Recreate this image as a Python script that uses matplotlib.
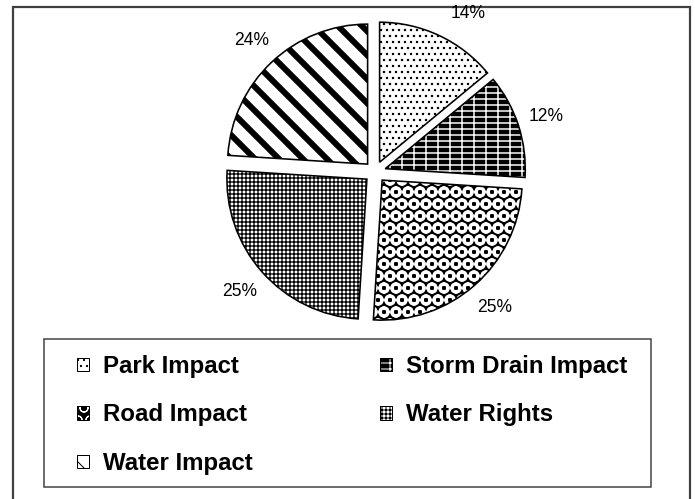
import matplotlib
matplotlib.use('Agg')
import matplotlib.pyplot as plt
from matplotlib.patches import Rectangle
from matplotlib.legend_handler import HandlerTuple

# ---- data ----
categories = ["Park Impact", "Storm Drain Impact", "Road Impact", "Water Rights", "Water Impact"]
values = [14, 12, 25, 25, 24]

# ---- styles ----
face_colors = ['white', 'black', 'black', 'white', 'white']
hatch_colors = ['black', 'white', 'white', 'black', 'black']
hatches = ['..', '+-', 'O', '+++', '\\']
hatch_lws = [1.2, 1.5, 3.0, 1.3, 6.0]

W, H = 695, 499
fig = plt.figure(figsize=(W / 72, H / 72), dpi=72)
ax = fig.add_axes([0, 0, 1, 1])

cx, cy, R = 375, H - 172, 140
explode = [10.8] * len(values)


def set_hlw(p, lw):
    try:
        p.set_hatch_linewidth(lw)
    except AttributeError:
        pass


wedges, _, autotexts = ax.pie(
    values, startangle=90, counterclock=False, explode=explode,
    center=(cx, cy), radius=R, colors=face_colors, hatch=hatches,
    autopct='%1.0f%%', pctdistance=1.21,
    wedgeprops=dict(linewidth=0),
    textprops=dict(fontsize=17.5, family='Liberation Sans', color='black'))
for w, hc, lw in zip(wedges, hatch_colors, hatch_lws):
    w.set_edgecolor(hc)
    w.set_linewidth(0)
    set_hlw(w, lw)

# the top label sits a little clockwise of its slice centre, below the frame line
tx, ty = autotexts[0].get_position()
autotexts[0].set_position((tx + 16, ty - 5))

ax.pie(values, startangle=90, counterclock=False, explode=explode,
       center=(cx, cy), radius=R,
       wedgeprops=dict(fill=False, edgecolor='black', linewidth=1.6))

ax.set_xlim(0, W)
ax.set_ylim(0, H)
ax.set_aspect('equal')
ax.axis('off')

# outer frame
ax.plot([13, 13, 690, 690], [0, H - 7, H - 7, 0], color='#404040', lw=2.2,
        solid_joinstyle='miter', clip_on=False)

# legend box
ax.add_patch(Rectangle((44, H - 487), 607, 148, fill=False, edgecolor='#404040', lw=1.5))

# legend handles
handles = []
for fc, h, hc, lw in zip(face_colors, hatches, hatch_colors, hatch_lws):
    r1 = Rectangle((0, 0), 1, 1, facecolor=fc, hatch=h, edgecolor=hc, linewidth=0)
    set_hlw(r1, min(lw, 4.0))
    r2 = Rectangle((0, 0), 1, 1, fill=False, edgecolor='black', linewidth=1.0)
    handles.append((r1, r2))

order = [0, 2, 4, 1, 3]
leg = ax.legend([handles[i] for i in order], [categories[i] for i in order],
                handler_map={tuple: HandlerTuple(ndivide=1, pad=0)},
                ncol=2, loc='upper left', bbox_to_anchor=(77, H - 355),
                bbox_transform=ax.transData, frameon=False,
                borderpad=0, borderaxespad=0,
                handlelength=0.5, handleheight=0.5, handletextpad=0.58,
                columnspacing=5.3, labelspacing=1.06,
                prop=dict(family='Liberation Sans', weight='bold', size=24))

fig.savefig('out.png', dpi=72)
